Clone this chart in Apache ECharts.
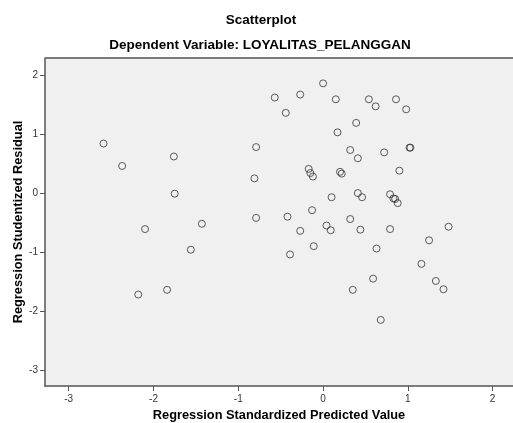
<!DOCTYPE html>
<html>
<head>
<meta charset="utf-8">
<script src="https://cdn.jsdelivr.net/npm/echarts@6/dist/echarts.min.js"></script>
<style>
html,body{margin:0;padding:0;background:#fff;}
#c{width:513px;height:423px;}
</style>
</head>
<body>
<div id="c"></div>
<script>
var titleText = 'Scatterplot';
var subtitleText = 'Dependent Variable: LOYALITAS_PELANGGAN';
var xAxisTitle = 'Regression Standardized Predicted Value';
var yAxisTitle = 'Regression Studentized Residual';
var xTicks = [-3, -2, -1, 0, 1, 2];
var yTicks = [-3, -2, -1, 0, 1, 2];
var predicted = [-2.59,-2.37,-1.76,-1.75,-0.81,-0.79,-0.57,-0.79,-1.43,-2.10,
  -1.56,-2.18,-1.84,-0.27,0.00,-0.44,0.15,0.54,0.62,0.86,
  0.98,0.39,0.17,0.32,0.41,0.72,1.02,1.03,-0.17,-0.15,
  -0.12,0.20,0.22,0.90,0.10,0.41,0.46,0.79,0.83,0.85,
  0.88,-0.42,-0.13,0.32,1.48,-0.27,0.04,0.09,0.44,0.79,
  1.25,-0.11,-0.39,0.63,1.16,0.59,0.35,1.33,1.42,0.68];
var residual = [0.84,0.46,0.62,-0.01,0.25,0.78,1.62,-0.42,-0.52,-0.61,
  -0.96,-1.72,-1.64,1.67,1.86,1.36,1.59,1.59,1.47,1.59,
  1.42,1.19,1.03,0.73,0.59,0.69,0.77,0.77,0.41,0.34,
  0.28,0.36,0.33,0.38,-0.07,0.00,-0.07,-0.02,-0.09,-0.10,
  -0.17,-0.40,-0.29,-0.44,-0.57,-0.64,-0.55,-0.63,-0.62,-0.61,
  -0.80,-0.90,-1.04,-0.94,-1.20,-1.45,-1.64,-1.49,-1.63,-2.15];

var pts = predicted.map(function(x, i){ return [x, residual[i]]; });
var font = '"Liberation Sans", Arial, sans-serif';
var chart = echarts.init(document.getElementById('c'));
chart.setOption({
  animation: false,
  backgroundColor: '#ffffff',
  graphic: [
    {type:'text', x:261, y:20, style:{text:titleText, font:'bold 13.5px ' + font, fill:'#000', align:'center', verticalAlign:'middle'}},
    {type:'text', x:260, y:45, style:{text:subtitleText, font:'bold 13.5px ' + font, fill:'#000', align:'center', verticalAlign:'middle'}},
    {type:'line', shape:{x1:45, y1:58, x2:513, y2:58}, style:{stroke:'#7a7a7a', lineWidth:2}, z:100}
  ],
  grid: {left:45, top:58, right:0, bottom:37, show:true, backgroundColor:'#f0f0f0', borderWidth:0, containLabel:false, outerBoundsMode:'none'},
  xAxis: {
    type:'value', min:-3.28, max:2.24,
    name:xAxisTitle, nameLocation:'middle', nameGap:21,
    nameTextStyle:{fontFamily:font, fontWeight:'bold', fontSize:12.8, color:'#000'},
    axisLine:{show:true, onZero:false, lineStyle:{color:'#555', width:1.5}},
    axisTick:{show:true, length:5, customValues:xTicks, lineStyle:{color:'#555'}},
    axisLabel:{customValues:xTicks, fontFamily:font, fontSize:10, color:'#333', margin:8},
    splitLine:{show:false}
  },
  yAxis: {
    type:'value', min:-3.27, max:2.29,
    name:yAxisTitle, nameLocation:'middle', nameGap:20, nameMoveOverlap:false,
    nameTextStyle:{fontFamily:font, fontWeight:'bold', fontSize:12.8, color:'#000'},
    axisLine:{show:true, onZero:false, lineStyle:{color:'#555', width:1.5}},
    axisTick:{show:true, length:5, customValues:yTicks, lineStyle:{color:'#555'}},
    axisLabel:{customValues:yTicks, fontFamily:font, fontSize:10, color:'#333', margin:7},
    splitLine:{show:false}
  },
  series: [{
    type:'scatter', data:pts, symbol:'circle', symbolSize:7,
    itemStyle:{color:'rgba(0,0,0,0)', borderColor:'#333', borderWidth:1},
    emphasis:{disabled:true}
  }]
});
</script>
</body>
</html>
